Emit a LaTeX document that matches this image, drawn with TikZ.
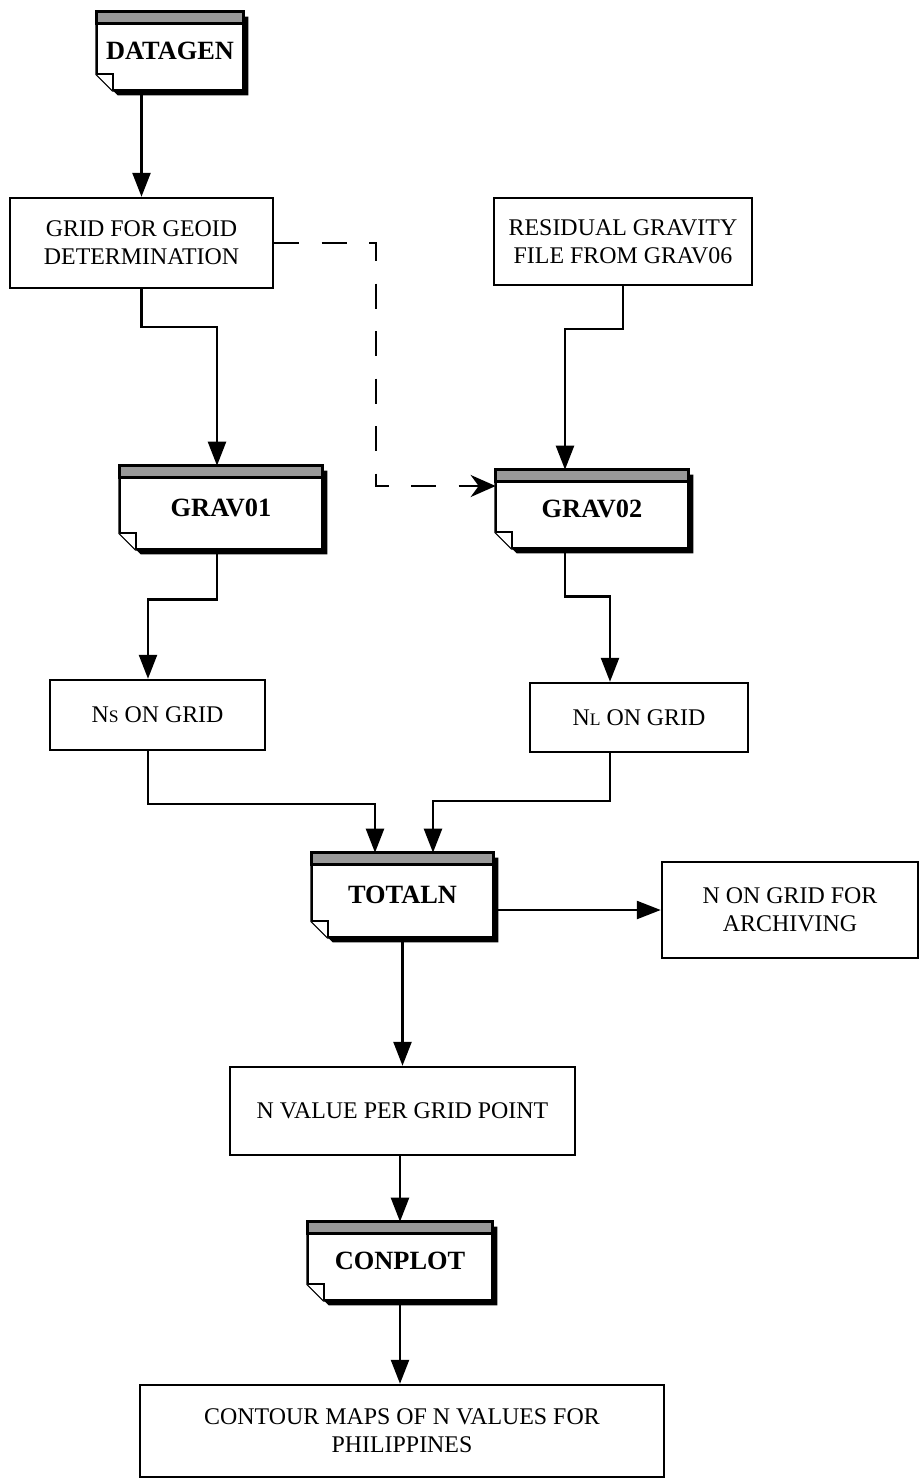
\documentclass[tikz,border=0pt]{standalone}
\usepackage{fontspec}
\setmainfont{Liberation Serif}
\usepackage{tikz}
\usetikzlibrary{arrows.meta, positioning, backgrounds, calc}

\newcommand{\boxfont}{\fontsize{13.6}{16}\selectfont}
\newcommand{\progfont}{\fontsize{15}{18}\selectfont\bfseries}
\newcommand{\smallcap}[1]{{\fontsize{10}{10}\selectfont #1}}

\begin{document}
\begin{tikzpicture}[
    datafile/.style={rectangle, draw=black, line width=1.4pt, fill=white, align=center, font=\boxfont, inner sep=0pt},
    prog/.style={rectangle, draw=none, inner sep=0pt, font=\progfont},
    arrow/.style={-{Triangle[length=4.8mm, width=3.6mm]}, line width=1.4pt},
    dasharrow/.style={-{Stealth[length=5mm, width=4.4mm, inset=1.6mm]}, line width=1.4pt, dash pattern=on 0.5cm off 0.45cm}
]
\useasboundingbox (0,0) rectangle (18.4,-29.66);

% programs
\node[prog, minimum width=2.92cm, minimum height=1.56cm] (datagen) at (3.40,-1.02) {DATAGEN};
\node[prog, minimum width=4.04cm, minimum height=1.66cm] (grav01) at (4.42,-10.15) {GRAV01};
\node[prog, minimum width=3.84cm, minimum height=1.56cm] (grav02) at (11.84,-10.18) {GRAV02};
\node[prog, minimum width=3.62cm, minimum height=1.68cm] (totaln) at (8.05,-17.90) {TOTALN};
\node[prog, minimum width=3.68cm, minimum height=1.56cm] (conplot) at (8.00,-25.22) {CONPLOT};

% files
\node[datafile, minimum width=5.26cm, minimum height=1.80cm] (grid) at (2.83,-4.86) {GRID FOR GEOID\\DETERMINATION};
\node[datafile, minimum width=5.16cm, minimum height=1.74cm] (resid) at (12.46,-4.83) {RESIDUAL GRAVITY\\FILE FROM GRAV06};
\node[datafile, minimum width=4.30cm, minimum height=1.40cm] (ns) at (3.15,-14.30) {N\smallcap{S} ON GRID};
\node[datafile, minimum width=4.36cm, minimum height=1.38cm] (nl) at (12.78,-14.35) {N\smallcap{L} ON GRID};
\node[datafile, minimum width=5.12cm, minimum height=1.92cm] (arch) at (15.80,-18.20) {N ON GRID FOR\\ARCHIVING};
\node[datafile, minimum width=6.90cm, minimum height=1.76cm] (nval) at (8.05,-22.22) {N VALUE PER GRID POINT};
\node[datafile, minimum width=10.48cm, minimum height=1.84cm] (contour) at (8.04,-28.62) {CONTOUR MAPS OF N VALUES FOR\\PHILIPPINES};

% program boxes: shadow, folded corner, shaded band
\begin{scope}[on background layer]
\foreach \p in {datagen,grav01,grav02,totaln,conplot}{
  \fill[black] ($(\p.north west)+(0.1,-0.1)$) -- ($(\p.north east)+(0.1,-0.1)$) -- ($(\p.south east)+(0.1,-0.1)$)
    -- ($(\p.south west)+(0.42,-0.1)$) -- ($(\p.south west)+(0.1,0.22)$) -- cycle;
  \draw[line width=1.4pt, fill=white] (\p.north west) -- (\p.north east) -- (\p.south east)
    -- ($(\p.south west)+(0.32,0)$) -- ($(\p.south west)+(0,0.32)$) -- cycle;
  \draw[line width=1.4pt, fill=black!40] (\p.north west) rectangle ($(\p.north east)+(0,-0.24)$);
  \draw[line width=1pt, fill=white] ($(\p.south west)+(0,0.32)$) -- ($(\p.south west)+(0.32,0.32)$)
    -- ($(\p.south west)+(0.32,0)$);
}
\end{scope}

% Arrows
\draw[arrow] (grid.north |- datagen.south) -- (grid.north);
\draw[arrow] (grid.south) -- ++(0,-0.76) -| ([xshift=-0.08cm]grav01.north);
\draw[arrow] (resid.south) -- ++(0,-0.86) -| ([xshift=-0.54cm]grav02.north);
\draw[dasharrow] (grid.east) -- ++(2.04,0) |- ([yshift=0.46cm]grav02.west);
\draw[arrow] ([xshift=-0.08cm]grav01.south) -- ++(0,-1.0) -| ([xshift=-0.19cm]ns.north);
\draw[arrow] ([xshift=-0.54cm]grav02.south) -- ++(0,-0.96) -| ([xshift=-0.58cm]nl.north);
\draw[arrow] ([xshift=-0.19cm]ns.south) -- ++(0,-1.06) -| ([xshift=-0.55cm]totaln.north);
\draw[arrow] ([xshift=-0.58cm]nl.south) -- ++(0,-0.96) -| ([xshift=0.61cm]totaln.north);
\draw[arrow] (totaln.east |- arch.west) -- (arch.west);
\draw[arrow] (totaln.south) -- (totaln.south |- nval.north);
\draw[arrow] (conplot.north |- nval.south) -- (conplot.north);
\draw[arrow] (conplot.south) -- (conplot.south |- contour.north);

\end{tikzpicture}
\end{document}
